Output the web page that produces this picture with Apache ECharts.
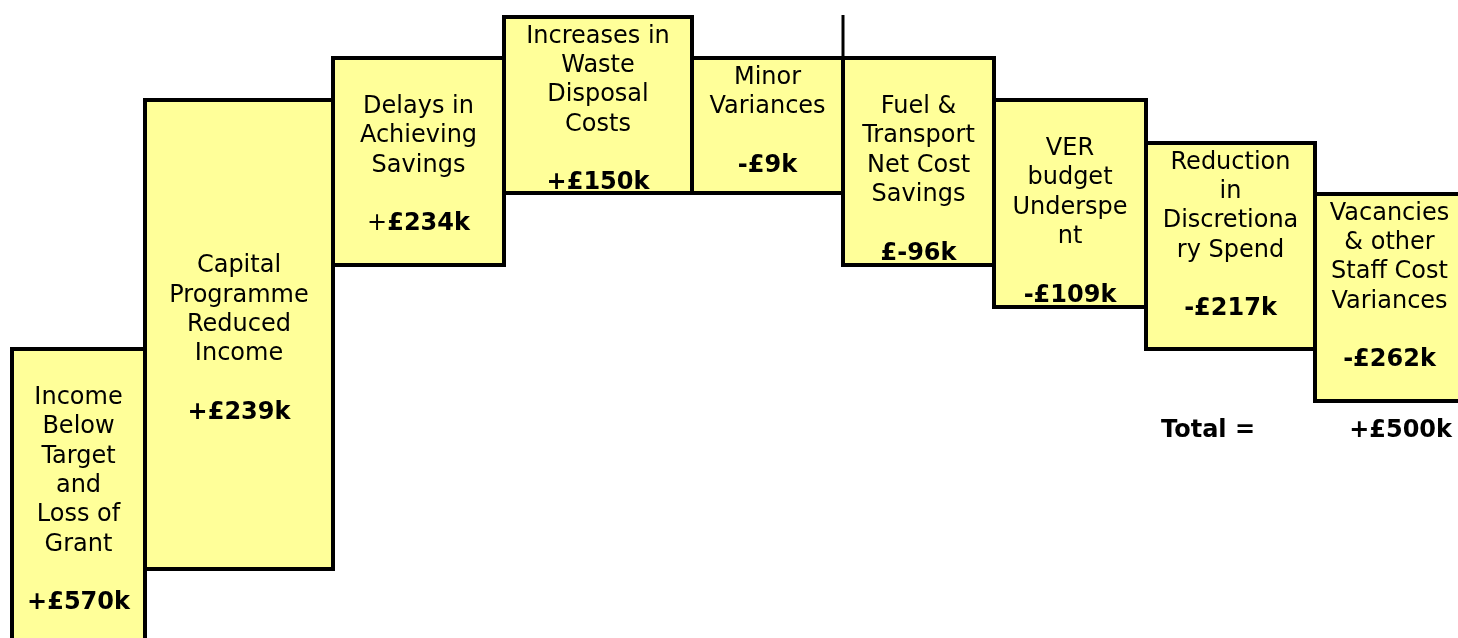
<!DOCTYPE html>
<html>
<head>
<meta charset="utf-8">
<script src="https://cdn.jsdelivr.net/npm/echarts@6/dist/echarts.min.js"></script>
<style>
  html, body { margin: 0; padding: 0; background: #fff; }
  #chart { width: 1458px; height: 638px; }
</style>
</head>
<body>
<div id="chart"></div>
<script>
// box captions (leading blank lines kept as in the original text boxes)
const names = [
  '\nIncome\nBelow\nTarget\nand\nLoss of\nGrant',
  '\n\n\n\n\nCapital\nProgramme\nReduced\nIncome',
  '\nDelays in\nAchieving\nSavings',
  'Increases in\nWaste\nDisposal\nCosts',
  'Minor\nVariances',
  '\nFuel &\nTransport\nNet Cost\nSavings',
  '\nVER\nbudget\nUnderspe\nnt',
  'Reduction\nin\nDiscretiona\nry Spend',
  'Vacancies\n& other\nStaff Cost\nVariances'
]
const values = ['+£570k', '+£239k', '+£234k', '+£150k', '-£9k', '£-96k', '-£109k', '-£217k', '-£262k']
const plainSign = [false, false, true, false, false, false, false, false, false]

// box extents in chart units (x across, y up from baseline)
const xStart = [12, 145, 333, 504, 692, 843, 994, 1146, 1315]
const xEnd = [145, 333, 504, 692, 843, 994, 1146, 1315, 1464]
const yTop = [289, 538, 580, 621, 580, 580, 538, 495, 444]
const yBottom = [-13, 69, 373, 445, 445, 373, 331, 289, 237]

// connector between the two top levels
const connector = [[843, 623], [843, 580]]

const totalLabel = 'Total ='
const totalValue = '+£500k'
const totalPos = [[1161, 207], [1452, 207]]

const FONT = '"DejaVu Sans", Verdana, sans-serif'

const boxData = names.map((n, i) => [xStart[i], xEnd[i], yBottom[i], yTop[i]])

const valueText = (i) => {
  const v = values[i]
  if (plainSign[i]) return `{s|${v[0]}}{v|${v.slice(1)}}`
  return `{v|${v}}`
}

const chart = echarts.init(document.getElementById('chart'), null, { renderer: 'canvas' })

const option = {
  backgroundColor: '#ffffff',
  animation: false,
  grid: { left: 0, right: 0, top: 0, bottom: 0 },
  xAxis: { type: 'value', min: 0, max: 1458, show: false },
  yAxis: { type: 'value', min: 0, max: 638, show: false },
  series: [
    {
      type: 'custom',
      data: boxData,
      renderItem: (params, api) => {
        const i = params.dataIndex
        const tl = api.coord([api.value(0), api.value(3)])
        const br = api.coord([api.value(1), api.value(2)])
        return {
          type: 'group',
          children: [
            {
              type: 'rect',
              shape: { x: tl[0], y: tl[1], width: br[0] - tl[0], height: br[1] - tl[1] },
              style: { fill: '#ffff99', stroke: '#000000', lineWidth: 4 }
            },
            {
              type: 'text',
              x: (tl[0] + br[0]) / 2,
              y: tl[1] + 5,
              style: {
                text: `{n|${names[i]}}\n\n${valueText(i)}`,
                align: 'center',
                verticalAlign: 'top',
                fontFamily: FONT,
                fontSize: 24,
                lineHeight: 29.3,
                fill: '#000',
                rich: {
                  n: { fontFamily: FONT, fontSize: 24, lineHeight: 29.3, fill: '#000', align: 'center' },
                  s: { fontFamily: FONT, fontSize: 24, lineHeight: 29.3, fill: '#000' },
                  v: { fontFamily: FONT, fontSize: 24, lineHeight: 29.3, fontWeight: 'bold', fill: '#000' }
                }
              }
            }
          ]
        }
      }
    },
    {
      type: 'line',
      data: connector,
      symbol: 'none',
      lineStyle: { color: '#000', width: 3 },
      z: 3
    },
    {
      type: 'custom',
      data: totalPos,
      renderItem: (params, api) => {
        const i = params.dataIndex
        const p = api.coord([api.value(0), api.value(1)])
        return {
          type: 'text',
          x: p[0],
          y: p[1],
          style: {
            text: i === 0 ? totalLabel : totalValue,
            align: i === 0 ? 'left' : 'right',
            verticalAlign: 'middle',
            fontFamily: FONT,
            fontSize: 24,
            fontWeight: 'bold',
            fill: '#000'
          }
        }
      }
    }
  ]
}

chart.setOption(option)
</script>
</body>
</html>
